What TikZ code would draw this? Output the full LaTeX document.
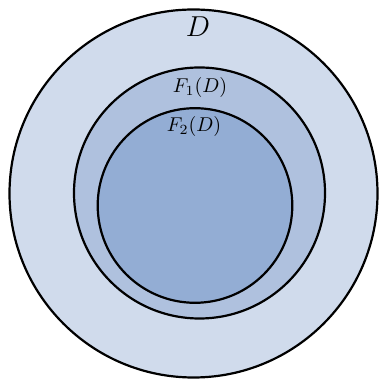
\documentclass[tikz,border=0pt]{standalone}
\usepackage{amsmath}
\usetikzlibrary{positioning, calc}

\definecolor{setD}{RGB}{208,219,236}
\definecolor{setFa}{RGB}{175,193,222}
\definecolor{setFb}{RGB}{147,173,212}

\begin{document}
\begin{tikzpicture}[
    x=0.5pt, y=0.5pt,
    % Set Style
    set/.style={draw=black, circle, line width=1.1pt, inner sep=0pt},
    % Label Style
    lbl/.style={inner sep=0pt}
]

\useasboundingbox (0,0) rectangle (379,379);

% ================= Sets =================
\node[set, fill=setD, minimum size=184pt] (D) at (193.5,185.5) {};
\node[set, fill=setFa, minimum size=125.5pt] (F1) at (199.5,186) {};
\node[set, fill=setFb, minimum size=97.3pt] (F2) at (195,173.5) {};

% ================= Labels =================
\node[lbl, font=\fontsize{13.5}{16}\selectfont] (labD) at (198,352) {$D$};
\node[lbl] (labF1) at (200,291) {$F_1(D)$};
\node[lbl] (labF2) at (194,252) {$F_2(D)$};

\end{tikzpicture}
\end{document}
